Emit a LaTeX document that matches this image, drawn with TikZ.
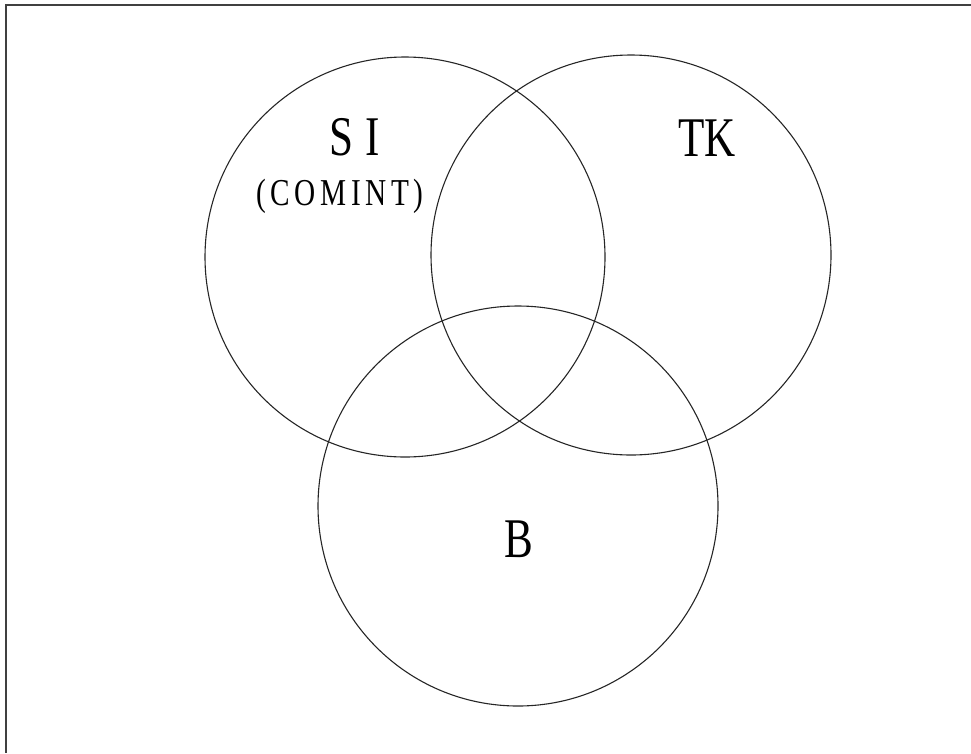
\documentclass[tikz,border=0pt]{standalone}
\usepackage{fontspec}
\newfontfamily\labfont[FakeStretch=0.77]{Liberation Serif}
\newfontfamily\smallfont[FakeStretch=0.77,LetterSpace=12]{Liberation Serif}
\begin{document}
\begin{tikzpicture}[x=1pt,y=-1pt,
  setcircle/.style={draw=black!85,line width=1.1pt},
  frameline/.style={draw=black!75,line width=2pt},
  biglabel/.style={anchor=base,inner sep=0pt,font=\labfont\fontsize{56}{56}\selectfont},
  smalllabel/.style={anchor=base,inner sep=0pt,font=\smallfont\fontsize{38}{38}\selectfont}]
\useasboundingbox (0,0) rectangle (971,753);
\coordinate (tl) at (6,5);
\coordinate (tr) at (971,5);
\coordinate (bl) at (6,753);
\draw[frameline] (tr) -- (tl) -- (bl);
\node[setcircle,circle,minimum size=400pt,inner sep=0pt] (si) at (405,257) {};
\node[setcircle,circle,minimum size=400pt,inner sep=0pt] (tk) at (631,255) {};
\node[setcircle,circle,minimum size=400pt,inner sep=0pt] (b) at (518,506) {};
\node[biglabel] (silab) at (355,155) {S\kern12pt I};
\node[smalllabel] (comint) at (340,205) {(COMINT)};
\node[biglabel] (tklab) at (707,156) {TK};
\node[biglabel] (blab) at (519,557) {B};
\end{tikzpicture}
\end{document}
